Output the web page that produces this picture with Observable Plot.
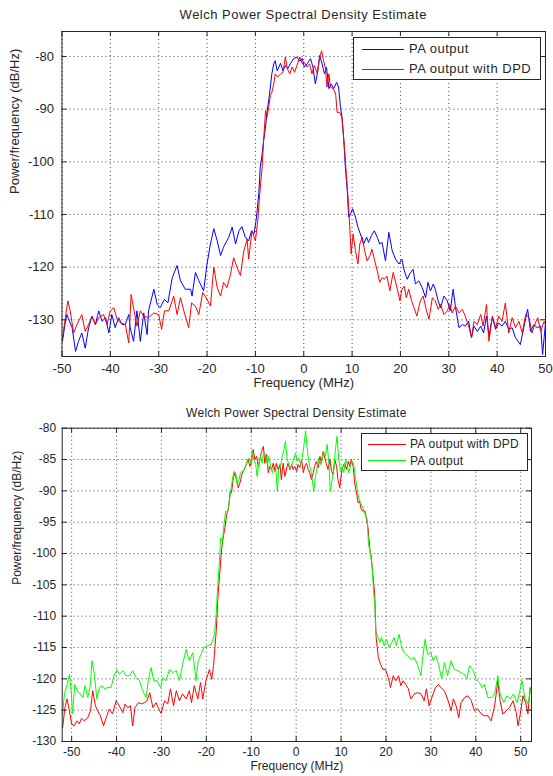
<!DOCTYPE html>
<html>
<head>
<meta charset="utf-8">
<script src="https://cdn.jsdelivr.net/npm/d3@7"></script>
<script src="https://cdn.jsdelivr.net/npm/@observablehq/plot@0.6"></script>
<style>
  html, body { margin: 0; padding: 0; background: #fff; }
  body { width: 553px; height: 776px; overflow: hidden; font-family: "Liberation Sans", Arial, sans-serif; color: #262626; }
  .panel { position: relative; width: 553px; }
  .title { position: absolute; left: 0; top: 0; width: 553px; box-sizing: border-box; text-align: center; white-space: nowrap; z-index: 2; }
  .legend { position: absolute; box-sizing: border-box; background: #fff; border: 1px solid #262626; z-index: 2; }
  .legend .sample { position: absolute; height: 1px; }
  .legend .label { position: absolute; white-space: nowrap; }
  svg { display: block; }
</style>
</head>
<body>
<div id="root"></div>
<script>
// ---------- Data: top panel (Welch PSD, PA output vs PA output with DPD) ----------
const topFreqPA = [-49.9,-49.4,-49.0,-48.3,-47.9,-47.2,-46.6,-45.9,-45.2,-44.5,
  -43.8,-43.1,-42.4,-41.7,-41.0,-40.3,-39.7,-39.0,-38.3,-37.6,
  -36.9,-36.2,-35.9,-35.2,-34.5,-33.8,-33.1,-32.4,-32.1,-31.0,
  -30.3,-29.7,-28.8,-28.1,-27.2,-26.2,-25.5,-24.5,-23.4,-23.1,
  -22.4,-21.7,-20.7,-20.0,-19.3,-18.6,-17.9,-17.2,-16.6,-15.5,
  -14.8,-14.1,-13.4,-12.8,-12.1,-11.4,-10.8,-10.3,-9.8,-9.3,
  -9.0,-8.6,-8.3,-7.9,-7.6,-7.2,-6.9,-6.6,-6.2,-5.9,
  -5.5,-4.8,-4.3,-3.8,-3.3,-2.8,-2.1,-1.4,-0.8,-0.3,
  0.1,0.7,1.4,1.9,2.4,2.8,3.3,3.8,4.3,4.7,
  5.2,5.7,6.2,6.8,7.2,7.6,7.9,8.3,8.6,9.0,
  9.3,9.7,10.1,10.7,11.2,11.7,12.4,13.0,13.4,14.0,
  14.6,15.2,15.7,16.2,16.9,17.6,18.3,19.0,19.7,20.3,
  20.8,21.4,21.9,22.6,23.1,23.8,24.5,25.2,25.7,26.2,
  26.8,27.2,27.8,28.3,29.0,29.7,30.3,30.9,31.4,32.1,
  32.8,33.4,34.1,34.7,35.2,35.9,36.6,37.2,37.8,38.3,
  39.0,39.7,40.3,41.0,41.7,42.4,43.1,43.8,44.8,45.5,
  46.3,46.9,47.6,48.3,49.0,49.4,50.0];
const topPowerPA = [-134.1,-130.9,-129.0,-130.6,-131.5,-136.0,-134.1,-132.5,-135.4,-131.5,
  -129.3,-130.9,-128.3,-130.3,-129.6,-132.5,-129.0,-131.5,-129.6,-130.9,
  -130.9,-129.0,-131.5,-134.1,-128.3,-134.1,-128.7,-132.8,-128.3,-124.2,
  -127.1,-127.7,-126.1,-126.8,-122.0,-119.7,-122.6,-124.2,-124.2,-125.5,
  -121.0,-122.6,-124.5,-119.4,-115.6,-112.7,-115.0,-117.8,-116.2,-114.3,
  -112.4,-115.6,-113.1,-112.3,-114.3,-115.0,-113.1,-113.7,-110.8,-106.0,
  -101.0,-98.5,-96.0,-93.4,-90.6,-88.0,-85.8,-83.3,-81.4,-80.8,
  -82.7,-81.3,-82.7,-81.7,-82.3,-81.4,-80.4,-80.1,-80.9,-80.4,
  -82.0,-81.4,-80.4,-82.0,-85.2,-83.3,-79.8,-81.4,-83.3,-82.0,
  -86.1,-85.2,-86.1,-84.9,-85.8,-89.6,-91.5,-96.0,-101.0,-105.4,
  -110.5,-109.9,-108.9,-110.5,-112.4,-113.7,-115.6,-114.3,-115.3,-114.0,
  -113.1,-114.3,-115.6,-115.3,-118.8,-113.4,-116.9,-118.5,-119.4,-118.5,
  -120.7,-122.3,-121.3,-120.4,-123.2,-122.6,-123.9,-125.8,-122.9,-124.5,
  -123.2,-124.2,-126.4,-127.7,-125.5,-126.4,-128.3,-124.2,-127.7,-131.5,
  -130.9,-131.2,-130.3,-133.4,-131.2,-132.2,-131.2,-132.5,-129.3,-133.1,
  -129.6,-131.8,-130.6,-131.2,-130.3,-131.8,-131.5,-133.4,-134.7,-131.5,
  -128.0,-132.2,-130.9,-131.5,-131.2,-136.6,-130.6];
const topFreqDPD = [-49.9,-49.3,-48.8,-48.3,-47.6,-46.9,-45.9,-45.2,-44.5,-43.8,
  -43.1,-42.4,-41.4,-40.7,-40.0,-39.3,-38.6,-37.9,-36.9,-36.2,
  -35.7,-35.2,-34.5,-33.8,-33.1,-32.1,-31.0,-30.0,-29.4,-28.8,
  -27.9,-26.9,-26.2,-25.5,-24.8,-23.8,-23.2,-22.4,-21.7,-20.9,
  -20.0,-19.3,-18.6,-17.9,-17.2,-16.6,-15.9,-15.2,-14.5,-13.8,
  -13.1,-12.4,-11.7,-11.4,-10.7,-10.0,-9.5,-9.1,-8.6,-8.3,
  -7.9,-7.6,-7.2,-6.9,-6.6,-6.2,-5.9,-5.4,-4.8,-4.3,
  -3.8,-3.4,-2.9,-2.4,-1.9,-1.4,-0.8,-0.3,0.1,0.7,
  1.2,1.7,2.2,2.8,3.3,3.7,4.1,4.5,4.8,5.2,
  5.5,6.1,6.6,6.9,7.4,7.9,8.4,8.8,9.2,9.5,
  9.8,10.2,10.7,11.2,11.6,12.1,12.6,13.1,13.7,14.1,
  14.6,15.2,15.7,16.2,16.7,17.2,17.8,18.5,19.2,19.9,
  20.3,20.8,21.2,21.7,22.3,22.8,23.4,24.1,24.7,25.4,
  25.9,26.6,27.2,27.8,28.3,29.0,29.7,30.2,30.7,31.4,
  32.1,32.8,33.4,34.1,34.7,35.2,35.9,36.6,37.1,37.8,
  38.3,39.0,39.7,40.3,41.0,41.7,42.4,43.1,43.8,44.5,
  45.2,45.9,46.6,47.2,47.9,48.4,49.0,49.7,50.0];
const topPowerDPD = [-133.4,-129.6,-126.4,-128.3,-132.5,-130.9,-129.0,-132.2,-130.9,-129.3,
  -130.9,-129.6,-129.0,-130.9,-128.3,-127.7,-129.9,-130.6,-130.9,-134.4,
  -125.2,-127.7,-131.2,-128.3,-129.3,-129.6,-128.7,-129.0,-131.8,-128.3,
  -128.3,-125.5,-129.0,-125.8,-128.3,-131.5,-126.8,-127.4,-129.0,-124.8,
  -126.1,-127.4,-120.0,-123.9,-125.5,-122.9,-123.9,-121.6,-118.2,-120.0,
  -121.6,-116.9,-114.7,-118.5,-113.1,-115.0,-111.1,-106.1,-101.0,-95.9,
  -90.3,-91.5,-89.3,-87.4,-86.8,-85.2,-83.3,-83.9,-83.3,-83.0,
  -80.1,-82.3,-83.3,-82.0,-83.0,-81.7,-80.1,-81.4,-81.1,-82.0,
  -81.4,-83.3,-81.7,-83.3,-80.1,-78.9,-80.8,-82.3,-85.8,-83.3,
  -85.8,-86.1,-87.1,-90.6,-90.6,-91.5,-97.2,-102.3,-107.3,-112.0,
  -117.5,-113.7,-116.9,-119.4,-115.6,-114.3,-116.9,-118.8,-117.8,-116.6,
  -118.5,-120.7,-122.9,-122.0,-122.3,-121.7,-124.5,-121.0,-123.6,-126.4,
  -124.2,-123.6,-125.8,-124.2,-126.4,-127.7,-129.3,-126.4,-125.5,-128.3,
  -129.9,-125.8,-126.4,-128.0,-127.1,-129.0,-128.3,-127.1,-128.7,-127.4,
  -128.7,-128.0,-129.3,-131.2,-133.4,-130.3,-130.9,-129.0,-131.2,-127.1,
  -134.1,-129.3,-131.5,-129.3,-130.3,-126.8,-132.5,-129.6,-131.5,-130.3,
  -132.5,-129.0,-129.6,-132.5,-130.6,-129.6,-132.2,-130.3,-130.9];

// ---------- Data: bottom panel (PA output with DPD vs PA output) ----------
const botFreqPA = [-52.0,-51.6,-51.0,-50.5,-50.1,-49.8,-49.3,-48.7,-48.1,-47.5,
  -47.0,-46.4,-45.8,-45.5,-44.9,-44.4,-43.8,-43.3,-42.7,-42.0,
  -41.2,-40.6,-39.9,-39.4,-38.6,-37.9,-37.1,-36.4,-35.7,-34.9,
  -34.2,-33.4,-32.9,-32.3,-31.7,-31.0,-30.2,-29.7,-29.0,-28.2,
  -27.5,-26.7,-26.0,-25.3,-24.5,-23.8,-23.0,-22.3,-21.8,-21.2,
  -20.6,-19.7,-18.9,-18.2,-17.8,-17.6,-17.2,-16.8,-16.4,-16.1,
  -15.7,-15.3,-15.0,-14.6,-14.2,-13.9,-13.5,-13.1,-12.7,-12.4,
  -12.0,-11.6,-11.3,-10.9,-10.5,-10.1,-9.8,-9.4,-9.0,-8.7,
  -8.3,-7.9,-7.6,-7.2,-6.8,-6.4,-6.1,-5.7,-5.3,-5.0,
  -4.6,-4.2,-3.9,-3.5,-3.1,-2.7,-2.4,-2.0,-1.6,-1.3,
  -0.9,-0.5,-0.1,0.2,0.6,1.0,1.3,1.7,2.1,2.4,
  2.8,3.2,3.6,3.9,4.3,4.7,5.0,5.4,5.8,6.1,
  6.5,6.9,7.3,7.6,8.0,8.4,8.7,9.1,9.5,9.9,
  10.2,10.6,11.0,11.3,11.7,12.1,12.4,12.8,13.2,13.6,
  13.9,14.3,14.7,15.0,15.4,15.8,16.1,16.5,16.9,17.3,
  17.5,17.7,18.1,18.6,19.0,19.6,20.1,20.7,21.3,21.8,
  22.3,22.9,23.5,24.0,24.8,25.5,26.3,27.0,27.8,28.1,
  28.7,29.3,30.0,30.5,31.1,31.7,32.4,33.0,33.7,34.5,
  35.2,36.0,36.7,37.5,38.0,38.6,39.3,40.1,40.8,41.4,
  41.9,42.7,43.4,44.2,44.9,45.4,46.2,46.9,47.7,48.4,
  49.2,49.8,50.3,50.9,51.6,52.4];
const botPowerPA = [-125.6,-122.4,-120.9,-119.3,-121.9,-125.6,-120.9,-121.9,-122.4,-123.0,
  -121.1,-123.0,-120.9,-117.1,-119.3,-123.2,-121.4,-121.1,-121.6,-121.4,
  -121.4,-119.5,-118.6,-119.3,-118.7,-119.5,-119.5,-118.7,-119.8,-120.3,
  -121.9,-123.0,-120.1,-118.2,-120.3,-120.3,-121.4,-119.8,-120.3,-118.5,
  -119.0,-118.7,-120.3,-117.7,-115.3,-117.1,-115.8,-120.3,-117.1,-116.1,
  -115.0,-114.7,-114.5,-112.9,-109.7,-106.7,-102.5,-97.5,-98.0,-95.6,
  -93.2,-93.5,-92.2,-90.1,-88.2,-86.9,-87.1,-89.0,-88.2,-87.1,
  -86.9,-86.6,-86.1,-85.3,-84.8,-85.6,-83.7,-85.0,-85.8,-87.7,
  -85.6,-84.5,-85.6,-83.7,-84.5,-85.8,-84.5,-86.1,-87.1,-86.1,
  -85.8,-90.1,-86.6,-86.1,-84.5,-83.4,-82.1,-85.0,-85.8,-86.6,
  -85.6,-84.8,-84.0,-85.3,-84.8,-85.8,-84.8,-82.9,-80.4,-82.9,
  -85.3,-86.6,-88.2,-90.1,-87.7,-86.1,-84.8,-85.8,-85.0,-83.7,
  -84.5,-82.6,-85.8,-90.1,-88.2,-86.6,-83.7,-81.3,-85.0,-86.9,
  -86.1,-87.1,-85.0,-85.6,-87.1,-86.1,-85.3,-85.8,-87.9,-89.8,
  -91.1,-91.9,-92.4,-93.2,-93.8,-94.6,-98.5,-99.8,-102.0,-106.7,
  -107.6,-112.3,-113.1,-114.2,-113.4,-114.7,-113.7,-115.0,-114.2,-113.4,
  -114.7,-112.9,-115.0,-115.8,-116.3,-116.9,-116.6,-117.7,-119.5,-117.1,
  -113.7,-116.1,-115.8,-117.1,-116.3,-117.7,-120.0,-117.4,-119.5,-117.1,
  -118.5,-118.7,-119.0,-119.3,-120.1,-117.9,-118.5,-120.1,-120.6,-121.4,
  -120.9,-123.0,-123.0,-122.4,-119.5,-122.4,-123.8,-122.7,-123.2,-122.4,
  -123.8,-121.9,-120.3,-123.0,-124.0,-121.1];
const botFreqDPD = [-52.0,-51.5,-51.0,-50.5,-50.0,-49.4,-48.8,-48.3,-47.8,-47.2,
  -46.4,-45.8,-45.3,-44.7,-44.2,-43.6,-42.9,-42.3,-41.6,-40.9,
  -40.1,-39.4,-38.6,-38.1,-37.5,-36.9,-36.4,-35.9,-35.1,-34.5,
  -33.8,-33.2,-32.6,-31.9,-31.2,-30.6,-30.1,-29.3,-28.6,-28.0,
  -27.3,-26.7,-26.0,-25.3,-24.5,-23.8,-23.3,-22.7,-21.9,-21.3,
  -20.8,-20.1,-19.3,-18.8,-18.4,-17.8,-17.4,-17.0,-16.6,-16.2,
  -15.8,-15.5,-15.1,-14.7,-14.4,-14.0,-13.6,-13.3,-12.9,-12.5,
  -12.1,-11.8,-11.4,-11.0,-10.7,-10.3,-9.9,-9.6,-9.2,-8.8,
  -8.4,-8.1,-7.7,-7.3,-7.0,-6.6,-6.2,-5.9,-5.5,-5.1,
  -4.7,-4.4,-4.0,-3.6,-3.3,-2.9,-2.5,-2.1,-1.8,-1.4,
  -1.0,-0.7,-0.3,0.1,0.4,0.8,1.2,1.6,1.9,2.3,
  2.7,3.0,3.4,3.8,4.1,4.5,4.9,5.3,5.6,6.0,
  6.4,6.7,7.1,7.5,7.9,8.2,8.6,9.0,9.3,9.7,
  10.1,10.4,10.8,11.2,11.6,11.9,12.3,12.7,13.0,13.4,
  13.8,14.1,14.5,14.9,15.3,15.6,16.0,16.4,16.7,17.1,
  17.5,17.8,18.3,18.8,19.3,19.9,20.5,21.0,21.6,22.2,
  22.8,23.3,23.8,24.4,25.0,25.5,26.3,27.0,27.8,28.5,
  29.0,29.6,30.2,31.0,31.7,32.2,33.0,33.7,34.5,35.0,
  35.6,36.2,36.7,37.5,38.2,39.0,39.7,40.4,41.2,41.9,
  42.7,43.4,44.2,44.9,45.4,46.0,46.8,47.5,48.3,49.0,
  49.4,49.9,50.5,51.1,51.6,52.1,52.4];
const botPowerDPD = [-127.8,-124.6,-123.2,-125.1,-127.2,-127.5,-126.7,-127.2,-126.3,-126.7,
  -126.2,-125.1,-121.9,-124.3,-125.1,-125.9,-127.5,-126.2,-124.8,-125.6,
  -123.5,-124.3,-125.4,-124.0,-124.6,-124.3,-127.5,-124.6,-123.8,-124.0,
  -123.8,-123.5,-122.2,-124.6,-123.8,-124.8,-125.5,-123.5,-124.0,-121.6,
  -124.3,-121.9,-123.5,-122.4,-123.2,-121.9,-123.8,-121.1,-123.2,-120.6,
  -123.2,-120.3,-118.5,-120.1,-117.9,-112.3,-106.7,-103.0,-99.3,-97.2,
  -95.6,-93.8,-93.0,-90.1,-90.3,-87.9,-87.1,-88.2,-89.5,-88.7,
  -87.4,-86.9,-86.3,-85.6,-85.0,-86.1,-85.3,-83.4,-85.0,-84.5,
  -86.3,-85.0,-83.7,-82.9,-85.6,-84.2,-87.1,-86.1,-86.6,-85.6,
  -86.9,-85.6,-86.6,-85.8,-88.2,-85.6,-87.7,-86.3,-85.6,-86.6,
  -85.8,-86.6,-86.1,-86.9,-85.8,-86.3,-85.0,-87.1,-86.1,-85.6,
  -86.6,-87.1,-88.2,-87.1,-86.1,-85.3,-86.3,-84.5,-85.6,-83.7,
  -84.8,-85.6,-86.6,-85.0,-86.9,-87.4,-85.0,-86.1,-88.2,-89.5,
  -87.1,-86.1,-85.6,-86.6,-85.3,-86.1,-85.0,-86.1,-88.7,-90.1,
  -91.9,-91.6,-93.0,-93.2,-93.2,-94.3,-95.9,-99.3,-100.4,-103.5,
  -106.7,-113.4,-116.6,-117.7,-118.5,-118.5,-119.8,-121.4,-119.5,-120.3,
  -119.5,-121.1,-120.3,-120.9,-121.6,-123.2,-122.4,-122.2,-122.4,-123.5,
  -121.6,-124.3,-123.0,-121.4,-120.9,-121.4,-121.9,-123.2,-125.1,-123.2,
  -124.3,-126.2,-123.8,-123.0,-122.7,-123.5,-125.1,-124.8,-125.6,-125.9,
  -125.9,-126.7,-124.3,-120.3,-123.5,-125.6,-125.1,-124.6,-123.5,-125.4,
  -127.5,-125.6,-122.7,-123.8,-125.6,-121.4,-121.9];

// ---------- Ticks, labels, series names ----------
const topXTicks = [-50,-40,-30,-20,-10,0,10,20,30,40,50];
const topYTicks = [-80,-90,-100,-110,-120,-130];
const botXTicks = [-50,-40,-30,-20,-10,0,10,20,30,40,50];
const botYTicks = [-80,-85,-90,-95,-100,-105,-110,-115,-120,-125,-130];
const chartTitle = "Welch Power Spectral Density Estimate";
const xAxisLabel = "Frequency (MHz)";
const yAxisLabel = "Power/frequency (dB/Hz)";
const namePA = "PA output";
const nameDPD = "PA output with DPD";

const toRows = (fs, ps) => fs.map((f, i) => ({f, p: ps[i]}));

function buildPanel(cfg) {
  const panel = document.createElement("div");
  panel.className = "panel";
  panel.style.height = cfg.svgH + "px";

  const fw = 553 - cfg.ml - cfg.mr;
  const fh = cfg.svgH - cfg.mt - cfg.mb;
  const tickLen = 5;
  const gridStyle = {stroke: "#4a4a4a", strokeOpacity: 1, strokeWidth: 1, strokeDasharray: "1,3"};
  const ink = "#262626";

  const lineMarks = cfg.series.map(s =>
    Plot.line(toRows(s.f, s.p), {x: "f", y: "p", stroke: s.color, strokeWidth: 1, clip: true})
  );

  const chart = Plot.plot({
    width: 553,
    height: cfg.svgH,
    marginTop: cfg.mt, marginBottom: cfg.mb, marginLeft: cfg.ml, marginRight: cfg.mr,
    style: {fontFamily: '"Liberation Sans", Arial, sans-serif', fontSize: cfg.font + "px", color: ink, background: "#fff"},
    x: {domain: cfg.xDomain},
    y: {domain: cfg.yDomain},
    marks: [
      Plot.gridX(cfg.xTicks, {x: d => d, ...gridStyle}),
      Plot.gridY(cfg.yTicks, {y: d => d, ...gridStyle}),
      ...lineMarks,
      Plot.tickX(cfg.xTicks, {x: d => d, insetTop: fh - tickLen, stroke: ink}),
      Plot.tickX(cfg.xTicks, {x: d => d, insetBottom: fh - tickLen, stroke: ink}),
      Plot.tickY(cfg.yTicks, {y: d => d, insetRight: fw - tickLen, stroke: ink}),
      Plot.tickY(cfg.yTicks, {y: d => d, insetLeft: fw - tickLen, stroke: ink}),
      Plot.axisX({ticks: cfg.xTicks, tickSize: 0, tickPadding: cfg.xPad, tickFormat: d => String(d), label: null, fontSize: cfg.font}),
      Plot.axisY({ticks: cfg.yTicks, tickSize: 0, tickPadding: cfg.yPad, tickFormat: d => String(d), label: null, fontSize: cfg.font}),
      Plot.frame({stroke: ink, strokeWidth: 1}),
      Plot.text([xAxisLabel], {text: d => d, frameAnchor: "bottom", dy: cfg.xLabelDy, fontSize: cfg.font, fill: ink, style: "letter-spacing:0.2px"}),
      Plot.text([yAxisLabel], {text: d => d, frameAnchor: "left", dx: cfg.yLabelDx, rotate: -90, fontSize: cfg.font, fill: ink})
    ]
  });
  panel.appendChild(chart);

  const title = document.createElement("div");
  title.className = "title";
  title.textContent = chartTitle;
  Object.assign(title.style, {
    height: cfg.titleH + "px", lineHeight: cfg.titleH + "px",
    fontSize: cfg.titleSize + "px", letterSpacing: cfg.titleSpacing + "px",
    paddingLeft: cfg.ml + "px", paddingRight: cfg.mr + "px"
  });
  panel.appendChild(title);

  // Legend box (entries in the reference's order)
  const lg = cfg.legend;
  const box = document.createElement("div");
  box.className = "legend";
  Object.assign(box.style, {left: lg.left + "px", top: lg.top + "px", width: lg.width + "px", height: lg.height + "px"});
  cfg.series.slice().sort((a, b) => a.legendIndex - b.legendIndex).forEach((s, i) => {
    const cy = lg.rows[i];
    const sample = document.createElement("div");
    sample.className = "sample";
    Object.assign(sample.style, {left: lg.x0 + "px", width: (lg.x1 - lg.x0) + "px", top: (cy - 0.5) + "px", background: s.color});
    box.appendChild(sample);
    const label = document.createElement("div");
    label.className = "label";
    label.textContent = s.name;
    Object.assign(label.style, {left: lg.tx + "px", top: (cy - 8) + "px", lineHeight: "16px", fontSize: lg.font + "px", letterSpacing: lg.spacing + "px"});
    box.appendChild(label);
  });
  panel.appendChild(box);
  return panel;
}

const root = document.getElementById("root");

root.appendChild(buildPanel({
  titleH: 29, titleSize: 13, titleSpacing: 0.5,
  svgH: 400, mt: 31, mb: 44, ml: 61.5, mr: 8,
  font: 13, xPad: 7.5, yPad: 8, xLabelDy: 30.7, yLabelDx: -47.5,
  xDomain: [-50, 50], yDomain: [-136.97, -75.25],
  xTicks: topXTicks, yTicks: topYTicks,
  series: [
    {name: namePA, color: "#0000ff", f: topFreqPA, p: topPowerPA, legendIndex: 0},
    {name: nameDPD, color: "#ff0000", f: topFreqDPD, p: topPowerDPD, legendIndex: 1}
  ],
  legend: {left: 353, top: 37, width: 188, height: 43, rows: [11.3, 31], x0: 8, x1: 50, tx: 55, font: 13, spacing: 0.5}
}));

root.appendChild(buildPanel({
  titleH: 27, titleSize: 12, titleSpacing: 0.25,
  svgH: 376, mt: 27.7, mb: 35, ml: 61.7, mr: 22,
  font: 12, xPad: 5.5, yPad: 6, xLabelDy: 28.7, yLabelDx: -44.7,
  xDomain: [-52.1, 52.4], yDomain: [-130, -80],
  xTicks: botXTicks, yTicks: botYTicks,
  series: [
    {name: nameDPD, color: "#ff0000", f: botFreqDPD, p: botPowerDPD, legendIndex: 0},
    {name: namePA, color: "#00ff00", f: botFreqPA, p: botPowerPA, legendIndex: 1}
  ],
  legend: {left: 360.5, top: 33.3, width: 167, height: 38, rows: [10, 26.4], x0: 6.5, x1: 44, tx: 48.5, font: 12, spacing: 0.25}
}));
</script>
</body>
</html>
